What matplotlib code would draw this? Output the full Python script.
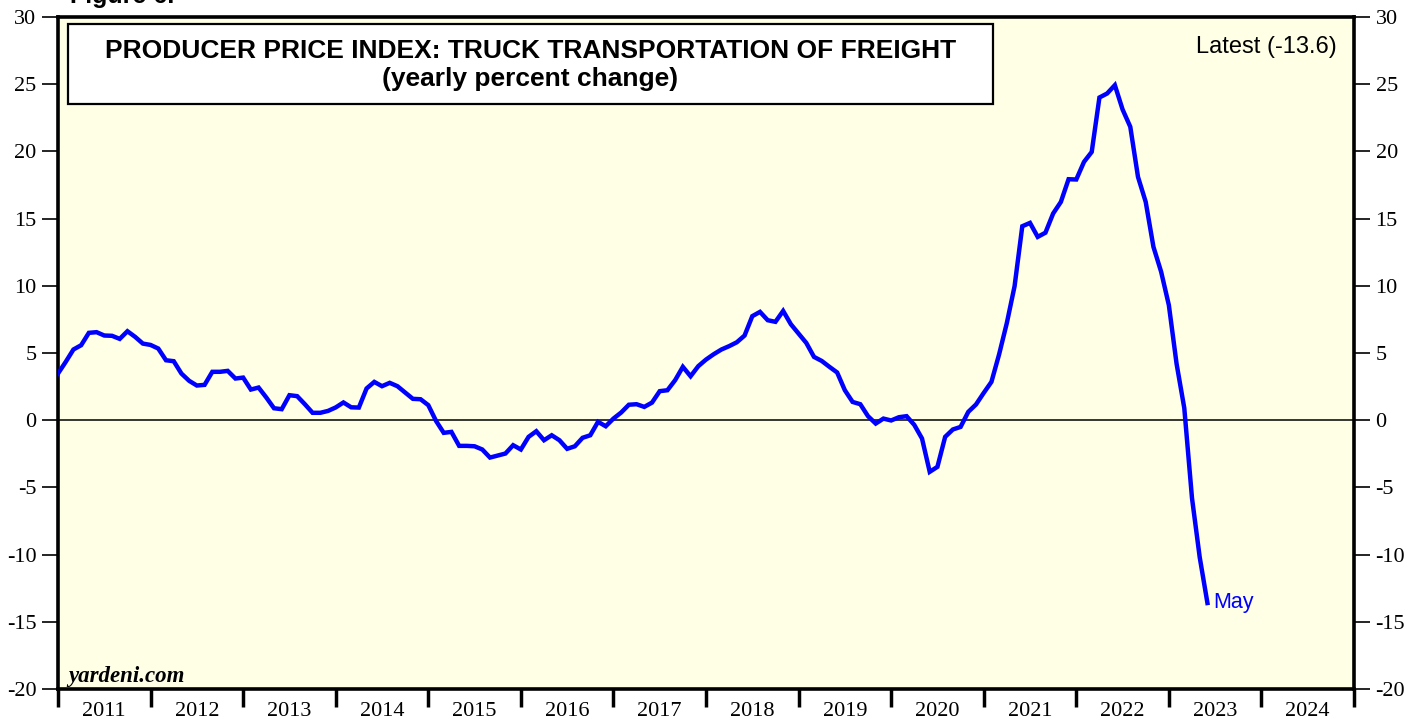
import matplotlib
matplotlib.use("Agg")
import matplotlib.pyplot as plt
from matplotlib.patches import Rectangle
import numpy as np

# Monthly yearly % change, Dec 2010 .. May 2023 (month-end positions)
start_year = 2011.0
values = [
    3.47, 4.34, 5.26, 5.58, 6.50, 6.55, 6.30, 6.28, 6.05, 6.62, 6.20, 5.70,
    5.60, 5.33, 4.46, 4.39, 3.47, 2.93, 2.58, 2.63, 3.60, 3.60, 3.67, 3.10,
    3.17, 2.28, 2.43, 1.69, 0.89, 0.82, 1.86, 1.79, 1.19, 0.55, 0.55, 0.69,
    0.95, 1.32, 0.96, 0.94, 2.36, 2.85, 2.53, 2.78, 2.53, 2.06, 1.59, 1.56,
    1.12, -0.05, -0.94, -0.87, -1.91, -1.91, -1.94, -2.18, -2.78, -2.63, -2.48, -1.86,
    -2.18, -1.24, -0.82, -1.49, -1.12, -1.49, -2.13, -1.94, -1.31, -1.12, -0.12, -0.45,
    0.12, 0.57, 1.15, 1.19, 0.99, 1.31, 2.16, 2.23, 2.98, 3.97, 3.27, 4.02,
    4.51, 4.91, 5.26, 5.51, 5.80, 6.30, 7.74, 8.06, 7.44, 7.32, 8.13, 7.14,
    6.45, 5.75, 4.71, 4.41, 3.97, 3.55, 2.23, 1.36, 1.19, 0.30, -0.25, 0.12,
    -0.02, 0.22, 0.30, -0.35, -1.36, -3.84, -3.47, -1.24, -0.69, -0.50, 0.62, 1.17,
    2.03, 2.85, 4.91, 7.24, 9.97, 14.43, 14.68, 13.64, 13.95, 15.38, 16.24, 17.93,
    17.91, 19.22, 19.96, 24.01, 24.31, 24.93, 23.12, 21.83, 18.10, 16.24, 12.90, 11.04,
    8.56, 4.20, 0.90, -5.80, -10.20, -13.60,
]
years = list(range(2011, 2025))
yticks = list(range(-20, 31, 5))
title_line1 = "PRODUCER PRICE INDEX: TRUCK TRANSPORTATION OF FREIGHT"
title_line2 = "(yearly percent change)"
latest_label = "Latest (-13.6)"
end_label = "May"

x = [start_year + i / 12.0 for i in range(len(values))]

SERIF = "Liberation Serif"
SANS = "Liberation Sans"

fig = plt.figure(figsize=(14.21, 7.23), dpi=100)
ax = fig.add_axes([58 / 1421, 1 - 689 / 723, (1354 - 58) / 1421, (689 - 17) / 723])
ax.set_facecolor("#FFFFE6")

ax.axhline(0, color="black", lw=1.1, zorder=2)
ax.plot(x, values, color="#0000FF", lw=3.2, zorder=3, solid_joinstyle="miter")

ax.set_xlim(2011, 2025)
ax.set_ylim(-20, 30)

ax.set_yticks(yticks)
ax.set_yticklabels([str(v) for v in yticks], fontfamily=SERIF, fontsize=16)
ax.tick_params(axis="y", which="major", left=True, right=True, labelleft=True,
               labelright=True, direction="out", length=11.5, width=1.2, pad=4)

ax.set_xticks(list(range(2011, 2026)))
ax.set_xticklabels([])
ax.set_xticks([y + 0.5 for y in years], minor=True)
ax.set_xticklabels([str(y) for y in years], minor=True, fontfamily=SERIF, fontsize=16)
ax.tick_params(axis="x", which="major", direction="out", length=13, width=2.5, bottom=True, top=False)
ax.tick_params(axis="x", which="minor", length=0, pad=9, bottom=True, top=False)

for s in ax.spines.values():
    s.set_linewidth(2.6)
    s.set_color("black")

# title box
bx0 = (68 - 58) / 1296
bx1 = (993 - 58) / 1296
by1 = (689 - 24) / 672
by0 = (689 - 104) / 672
ax.add_patch(Rectangle((bx0, by0), bx1 - bx0, by1 - by0, transform=ax.transAxes,
                       facecolor="white", edgecolor="black", lw=1.6, zorder=4))
cx = (bx0 + bx1) / 2
ax.text(cx, (689 - 51) / 672, title_line1, transform=ax.transAxes, ha="center", va="center",
        fontfamily=SANS, fontweight="bold", fontsize=19, zorder=5)
ax.text(cx, (689 - 79) / 672, title_line2, transform=ax.transAxes, ha="center", va="center",
        fontfamily=SANS, fontweight="bold", fontsize=19, zorder=5)

ax.text((1337 - 58) / 1296, (689 - 47) / 672, latest_label, transform=ax.transAxes,
        ha="right", va="center", fontfamily=SANS, fontsize=17, zorder=5)

ax.text((68 - 58) / 1296, (689 - 682) / 672, "yardeni.com", transform=ax.transAxes,
        ha="left", va="baseline", fontfamily=SERIF, fontweight="bold", fontstyle="italic",
        fontsize=16.5, zorder=5)

ax.annotate(end_label, xy=(x[-1], values[-1]), xytext=(4, 0), textcoords="offset points",
            ha="left", va="center", color="#0000FF", fontfamily=SANS, fontsize=15.5, zorder=5)

fig.text(70 / 1421, 1 - 3 / 723, "Figure 6.", ha="left", va="baseline",
         fontfamily=SANS, fontweight="bold", fontsize=18)

fig.savefig("out.png", dpi=100)
